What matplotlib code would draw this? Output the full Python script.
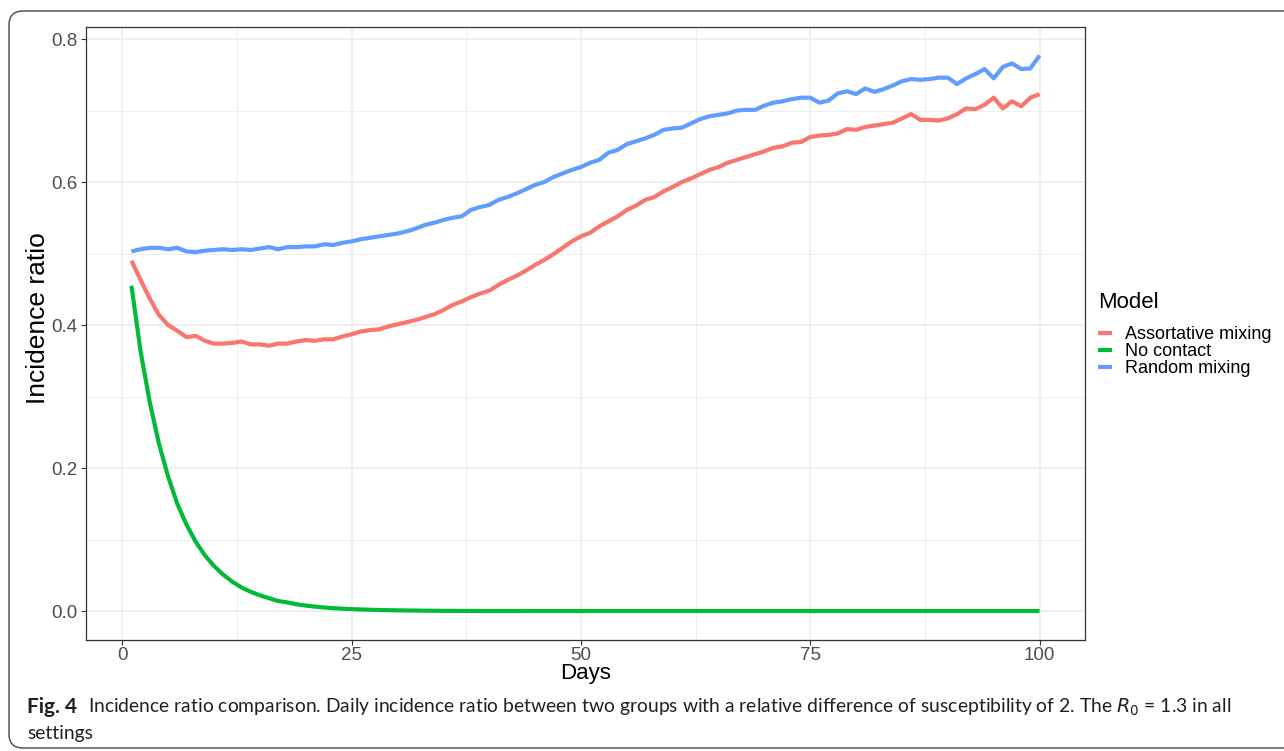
import numpy as np
import matplotlib
matplotlib.use('Agg')
from matplotlib import pyplot as plt
from matplotlib.patches import FancyBboxPatch

plt.rcParams['font.family'] = ['Liberation Sans', 'DejaVu Sans']

days = np.arange(1, 101)

assortative = [
    0.490, 0.463, 0.437, 0.414, 0.400, 0.392, 0.383, 0.385, 0.378, 0.374,
    0.374, 0.375, 0.377, 0.373, 0.373, 0.371, 0.374, 0.374, 0.377, 0.379,
    0.378, 0.380, 0.380, 0.384, 0.387, 0.391, 0.393, 0.394, 0.398, 0.401,
    0.404, 0.407, 0.411, 0.415, 0.421, 0.428, 0.433, 0.439, 0.444, 0.448,
    0.456, 0.463, 0.469, 0.476, 0.484, 0.491, 0.499, 0.508, 0.517, 0.524,
    0.529, 0.538, 0.545, 0.552, 0.561, 0.567, 0.575, 0.579, 0.587, 0.593,
    0.600, 0.605, 0.611, 0.617, 0.621, 0.627, 0.631, 0.635, 0.639, 0.643,
    0.648, 0.650, 0.655, 0.656, 0.663, 0.665, 0.666, 0.668, 0.674, 0.673,
    0.677, 0.679, 0.681, 0.683, 0.689, 0.695, 0.687, 0.687, 0.686, 0.689,
    0.695, 0.703, 0.702, 0.708, 0.718, 0.703, 0.713, 0.706, 0.718, 0.723,
]

no_contact = [
    0.455, 0.363, 0.292, 0.234, 0.188, 0.150, 0.121, 0.097, 0.078, 0.063,
    0.051, 0.041, 0.033, 0.027, 0.022, 0.018, 0.014, 0.012, 0.0095, 0.0077,
    0.0062, 0.0050, 0.0040, 0.0033, 0.0027, 0.0022, 0.0018, 0.0015, 0.0012, 0.0010,
    0.0008, 0.0007, 0.0005, 0.0004, 0.0003, 0.0003, 0.0002, 0.0002, 0.0001, 0.0001,
    0.0001, 0.0001, 0.0001, 0.0, 0.0, 0.0, 0.0, 0.0, 0.0, 0.0,
    0.0, 0.0, 0.0, 0.0, 0.0, 0.0, 0.0, 0.0, 0.0, 0.0,
    0.0, 0.0, 0.0, 0.0, 0.0, 0.0, 0.0, 0.0, 0.0, 0.0,
    0.0, 0.0, 0.0, 0.0, 0.0, 0.0, 0.0, 0.0, 0.0, 0.0,
    0.0, 0.0, 0.0, 0.0, 0.0, 0.0, 0.0, 0.0, 0.0, 0.0,
    0.0, 0.0, 0.0, 0.0, 0.0, 0.0, 0.0, 0.0, 0.0, 0.0,
]

random_mixing = [
    0.503, 0.506, 0.508, 0.508, 0.506, 0.508, 0.503, 0.502, 0.504, 0.505,
    0.506, 0.505, 0.506, 0.505, 0.507, 0.509, 0.506, 0.509, 0.509, 0.510,
    0.510, 0.513, 0.512, 0.515, 0.517, 0.520, 0.522, 0.524, 0.526, 0.528,
    0.531, 0.535, 0.540, 0.543, 0.547, 0.550, 0.552, 0.561, 0.565, 0.568,
    0.575, 0.579, 0.584, 0.590, 0.596, 0.600, 0.607, 0.612, 0.617, 0.621,
    0.627, 0.631, 0.641, 0.645, 0.653, 0.657, 0.661, 0.666, 0.673, 0.675,
    0.676, 0.682, 0.688, 0.692, 0.694, 0.696, 0.700, 0.701, 0.701, 0.707,
    0.711, 0.713, 0.716, 0.718, 0.718, 0.711, 0.714, 0.724, 0.727, 0.723,
    0.731, 0.726, 0.730, 0.735, 0.741, 0.744, 0.743, 0.744, 0.746, 0.746,
    0.737, 0.745, 0.751, 0.758, 0.745, 0.761, 0.766, 0.758, 0.759, 0.777,
]

models = ['Assortative mixing', 'No contact', 'Random mixing']
colors = ['#F8766D', '#00BA38', '#619CFF']
series = [assortative, no_contact, random_mixing]

W, H = 1284, 751
fig = plt.figure(figsize=(W / 100, H / 100), dpi=100)
ax = fig.add_axes([0.067, 0.1478, 0.778, 0.8162])

for name, col, vals in zip(models, colors, series):
    ax.plot(days, vals, color=col, lw=3.0, label=name, solid_capstyle='butt')

ax.set_xlim(-3.95, 104.95)
ax.set_ylim(-0.0405, 0.8168)
ax.set_xticks([0, 25, 50, 75, 100])
ax.set_yticks([0.0, 0.2, 0.4, 0.6, 0.8])
ax.set_yticklabels(['0.0', '0.2', '0.4', '0.6', '0.8'])
ax.set_xticks([12.5, 37.5, 62.5, 87.5], minor=True)
ax.set_yticks([0.1, 0.3, 0.5, 0.7], minor=True)
ax.grid(which='major', color='#EBEBEB', lw=1.1)
ax.grid(which='minor', color='#EBEBEB', lw=0.6)
ax.set_axisbelow(True)
ax.tick_params(which='major', length=3.5, width=0.8, color='#333333',
               labelsize=13.5, labelcolor='#4D4D4D', pad=2.5)
ax.tick_params(axis='x', pad=1.5)
ax.tick_params(which='minor', length=0)
for sp in ax.spines.values():
    sp.set_color('#333333')
    sp.set_linewidth(0.9)

ax.set_xlabel('Days', fontsize=16, labelpad=-1)
ax.set_ylabel('Incidence ratio', fontsize=19)
ax.yaxis.set_label_coords((50 - 86) / (0.778 * W), 0.525)

# legend: title drawn on its own so the gap below it can be set
fig.text(1098 / W, 1 - 302 / H, 'Model', fontsize=16, va='center', ha='left')
leg = fig.legend(loc='upper left', bbox_to_anchor=(1098 / W, 1 - 326 / H),
                 frameon=False, fontsize=13, handlelength=0.75,
                 handletextpad=0.75, labelspacing=0.0, borderaxespad=0,
                 borderpad=0)

# rounded frame around figure and caption, open on the right
frame = FancyBboxPatch((9, 3), 1500, 737,
                       boxstyle='round,pad=0,rounding_size=14',
                       transform=None, fill=False,
                       ec='#555555', lw=1.1, clip_on=False)
fig.patches.append(frame)

cap_font = ['Lato', 'DejaVu Sans']
fig.text(27 / W, 1 - 707 / H, 'Fig. 4', fontsize=15, fontweight='bold',
         family=cap_font, va='center', color='#231F20')
fig.text(88 / W, 1 - 707 / H,
         'Incidence ratio comparison. Daily incidence ratio between two groups with a '
         'relative difference of susceptibility of 2. The $R_0$ = 1.3 in all',
         fontsize=13.9, family=cap_font, va='center', color='#231F20')
fig.text(27 / W, 1 - 733 / H, 'settings', fontsize=13.9, family=cap_font,
         va='center', color='#231F20')

fig.savefig('out.png', dpi=100)
